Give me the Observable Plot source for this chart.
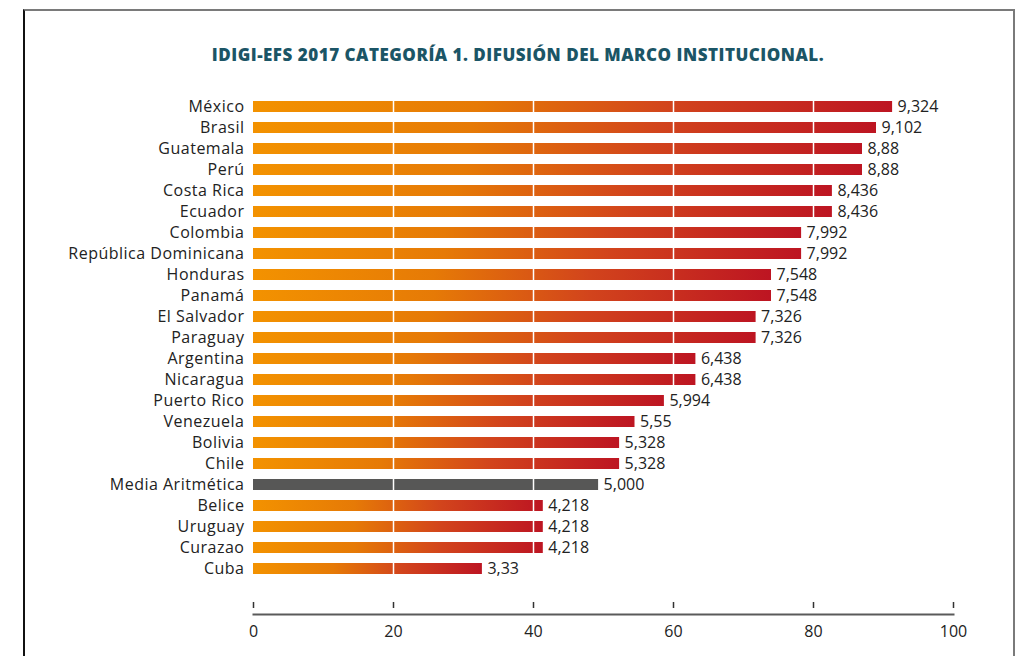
<!DOCTYPE html>
<html>
<head>
<meta charset="utf-8">
<script src="https://cdn.jsdelivr.net/npm/d3@7"></script>
<script src="https://cdn.jsdelivr.net/npm/@observablehq/plot@0.6"></script>
<style>
  html, body { margin: 0; padding: 0; background: #fff; width: 1016px; height: 656px; overflow: hidden; }
  #frame { position: absolute; left: 23px; top: 9px; width: 988px; height: 700px;
           border-left: 2px solid #111; border-top: 2px solid #7a7a7a; border-right: 2px solid #7a7a7a; }
  #title { position: absolute; left: 23px; width: 990px; top: 43px; text-align: center;
           font-family: "Open Sans", sans-serif; font-weight: 800; font-size: 17px; letter-spacing: 0.5px; color: #1b5566; }
  #chart { position: absolute; left: 0; top: 80px; }
  #chart g[aria-label="y-axis tick label"] text { letter-spacing: 0.5px; }
</style>
</head>
<body>
<div id="frame"></div>
<div id="title">IDIGI-EFS 2017 CATEGORÍA 1. DIFUSIÓN DEL MARCO INSTITUCIONAL.</div>
<div id="chart"></div>
<script>
const countries = ["México","Brasil","Guatemala","Perú","Costa Rica","Ecuador","Colombia","República Dominicana","Honduras","Panamá","El Salvador","Paraguay","Argentina","Nicaragua","Puerto Rico","Venezuela","Bolivia","Chile","Media Aritmética","Belice","Uruguay","Curazao","Cuba"];
const valueLabels = ["9,324","9,102","8,88","8,88","8,436","8,436","7,992","7,992","7,548","7,548","7,326","7,326","6,438","6,438","5,994","5,55","5,328","5,328","5,000","4,218","4,218","4,218","3,33"];
const barLengths = [91.3,89.0,87.0,87.0,82.7,82.7,78.3,78.3,74.0,74.0,71.8,71.8,63.2,63.2,58.7,54.5,52.3,52.3,49.3,41.4,41.4,41.4,32.7];
const xTicks = [0,20,40,60,80,100];
const gridTicks = [20,40,60,80];

const data = countries.map((c, i) => ({country: c, len: barLengths[i], label: valueLabels[i], mean: c === "Media Aritmética"}));

const chart = Plot.plot({
  width: 1016,
  height: 570,
  marginLeft: 253,
  marginRight: 63,
  marginTop: 10,
  marginBottom: 36,
  style: {fontFamily: "'Open Sans', sans-serif", fontSize: "16px", color: "#222", background: "transparent"},
  x: {domain: [0, 100], ticks: xTicks},
  y: {domain: countries, range: [10.2, 504.8], padding: 0.5, label: null},
  marks: [
    Plot.barX(data, {x: d => d.len, y: "country", fill: d => d.mean ? "#575756" : "url(#barGrad)"}),
    Plot.ruleX(gridTicks, {stroke: "white", strokeWidth: 1.5}),
    Plot.text(data, {x: d => d.len, y: "country", text: "label", dx: 5, textAnchor: "start", fontSize: 16, fill: "#222"}),
    Plot.axisY({tickSize: 0, tickPadding: 9, fontSize: 16, fill: "#222", label: null}),
    Plot.frame({anchor: "bottom", stroke: "#5a5a5a", strokeWidth: 2}),
    Plot.axisX(xTicks, {tickSize: 6, dy: -12, tickFormat: () => "", stroke: "#333", strokeWidth: 1.5, label: null}),
    Plot.axisX(xTicks, {tickSize: 0, tickPadding: 11, fontSize: 16, fill: "#222", label: null})
  ]
});

d3.select(chart).insert("defs", ":first-child").html(
  `<linearGradient id="barGrad" x1="0" y1="0" x2="1" y2="0">
     <stop offset="0" stop-color="#f39200"/>
     <stop offset="0.35" stop-color="#e67a06"/>
     <stop offset="0.65" stop-color="#d2441c"/>
     <stop offset="1" stop-color="#bd1522"/>
   </linearGradient>`);

document.getElementById("chart").appendChild(chart);
</script>
</body>
</html>
